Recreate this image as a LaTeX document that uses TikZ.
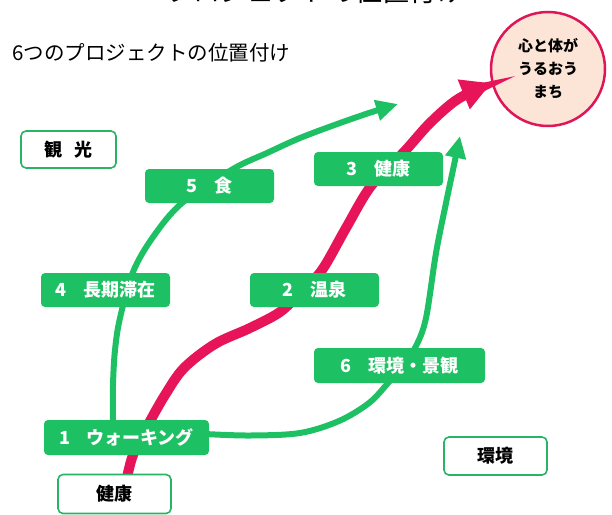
\documentclass[tikz,border=0pt]{standalone}
\usepackage{fontspec}
\setmainfont{Noto Sans CJK JP}
\usetikzlibrary{arrows.meta,calc}
\definecolor{grn}{RGB}{30,192,100}
\definecolor{wline}{RGB}{40,180,100}
\definecolor{pinkc}{RGB}{232,20,90}
\definecolor{ringc}{RGB}{222,22,88}
\definecolor{peach}{RGB}{252,228,214}
\begin{document}
\begin{tikzpicture}[x=1pt,y=-1pt,
  gbox/.style={fill=grn, rounded corners=4pt, text=white, inner sep=0pt,
    font=\bfseries\fontsize{18}{20}\selectfont, minimum height=34pt},
  wbox/.style={draw=wline, line width=1.6pt, fill=white, rounded corners=5pt, inner sep=0pt,
    font=\bfseries\fontsize{18}{20}\selectfont, minimum height=37pt},
  pinkarrow/.style={draw=pinkc, line width=10pt, -{Triangle[length=30pt,width=30pt]}},
  grnarrow/.style={draw=grn, line width=6pt, -{Triangle[length=22pt,width=20pt]}}
]
\useasboundingbox (0,0) rectangle (612,514);
\clip (0,0) rectangle (612,514);

% titles
\node[anchor=base, inner sep=0pt, font=\fontsize{27}{30}\selectfont] (toptitle) at (315,1.5) {プロジェクトの位置付け};
\node[anchor=base west, inner sep=0pt, font=\fontsize{20.5}{24}\selectfont] (title) at (12,60) {6つのプロジェクトの位置付け};

% goal circle
\node[circle, draw=ringc, line width=2.5pt, fill=peach, minimum size=114pt, inner sep=0pt,
  align=center, font=\bfseries\fontsize{15}{23}\selectfont] (goal) at (548,69) {心と体が\\うるおう\\まち};

% box positions (coordinates only, boxes drawn later on top)
\coordinate (pb1) at (126.5,437.5);
\coordinate (pkenko) at (114.5,494);
\coordinate (tipA) at (398,104);
\coordinate (tipB) at (460,136);

% pink arrow
\draw[pinkarrow] plot[smooth, tension=0.55] coordinates {(126.5,480) (133,455) (148,425) (165,395) (184,368) (215,344) (250,328) (280,312) (301,292) (322,270) (346,228) (371,186) (404,152) (430,123) (458,99) (goal.194)};

% green arrow A
\draw[grnarrow] plot[smooth, tension=0.55] coordinates {(113,425) (113,385) (115,350) (120,318) (133,272) (153,237) (182,203) (233,169) (267,153) (300,138) (340,123) (372,112) (tipA)};

% green arrow B
\draw[grnarrow] plot[smooth, tension=0.55] coordinates {(205,434) (250,435.5) (300,433) (339,421) (369,403) (388,383) (403,365) (416,346) (426,318) (436,253) (446,203) (454,165) (tipB)};

% boxes
\node[wbox, minimum width=95pt] (kanko) at (68.5,149.5) {観\hspace{0.7em}光};
\node[gbox, minimum width=129pt] (b5) at (209.5,186) {5\hspace{0.9em}食};
\node[gbox, minimum width=129pt] (b4) at (105.5,290) {4\hspace{0.9em}長期滞在};
\node[gbox, minimum width=129pt] (b2) at (314.5,290) {2\hspace{0.9em}温泉};
\node[gbox, minimum width=129pt] (b3) at (378.5,169) {3\hspace{0.9em}健康};
\node[gbox, minimum width=171pt, minimum height=35pt] (b6) at (399.5,365.5) {6\hspace{0.9em}環境・景観};
\node[gbox, minimum width=165pt, minimum height=35pt] (b1) at (pb1) {1\hspace{0.9em}ウォーキング};
\node[wbox, minimum width=113pt, minimum height=39pt] (kenko) at (pkenko) {健康};
\node[wbox, minimum width=103pt, minimum height=38pt] (kankyo) at (495.5,456) {環境};
\end{tikzpicture}
\end{document}
